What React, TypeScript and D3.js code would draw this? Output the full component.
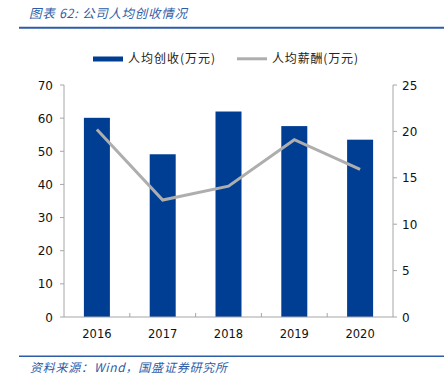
import React from "react";
import * as d3 from "d3";

const years = ["2016", "2017", "2018", "2019", "2020"];
const revenuePerCapita = [60.1, 49.1, 62.0, 57.6, 53.5];
const salaryPerCapita = [20.2, 12.6, 14.1, 19.1, 15.9];
const leftTicks = [0, 10, 20, 30, 40, 50, 60, 70];
const rightTicks = [0, 5, 10, 15, 20, 25];
const titleText = "图表 62:  公司人均创收情况";
const sourceText = "资料来源：Wind，国盛证券研究所";
const legendBar = "人均创收(万元)";
const legendLine = "人均薪酬(万元)";

const W = 444;
const H = 387;
const m = { left: 64, right: 393, top: 85, bottom: 317 };
const BAR = "#003E93";
const LINE = "#AEAEAE";
const AXIS = "#A6A6A6";
const BLUE = "#2E5DA8";
const FONT = "'DejaVu Sans', Verdana, sans-serif";
const CJK = "'Noto Sans CJK SC', sans-serif";

export default function App() {
  const x = d3.scaleBand<string>().domain(years).range([m.left, m.right]).paddingInner(0).paddingOuter(0);
  const yL = d3.scaleLinear().domain([0, 70]).range([m.bottom, m.top]);
  const yR = d3.scaleLinear().domain([0, 25]).range([m.bottom, m.top]);
  const barW = 26;
  const line = d3
    .line<number>()
    .x((_, i) => (x(years[i]) as number) + x.bandwidth() / 2)
    .y((d) => yR(d));

  return (
    <svg width={W} height={H} style={{ position: "absolute", left: 0, top: 0, background: "#fff" }}>
      <text
        x={29}
        y={18}
        fill={BLUE}
        fontFamily={CJK}
        fontStyle="italic"
        fontSize={12.5}
        textLength={158}
        lengthAdjust="spacing"
      >
        {titleText}
      </text>
      <line x1={19} x2={W} y1={27.8} y2={27.8} stroke={BLUE} strokeWidth={2} />

      {/* legend */}
      <rect x={93} y={56.5} width={30} height={5} fill={BAR} />
      <text x={128} y={63} fontFamily={CJK} fontSize={12} fill="#222" textLength={87} lengthAdjust="spacing">
        {legendBar}
      </text>
      <line x1={237} x2={267} y1={58.8} y2={58.8} stroke={LINE} strokeWidth={3} />
      <text x={272} y={63} fontFamily={CJK} fontSize={12} fill="#222" textLength={86} lengthAdjust="spacing">
        {legendLine}
      </text>

      {/* bars */}
      {revenuePerCapita.map((v, i) => (
        <rect
          key={years[i]}
          x={(x(years[i]) as number) + x.bandwidth() / 2 - barW / 2}
          y={yL(v)}
          width={barW}
          height={yL(0) - yL(v)}
          fill={BAR}
        />
      ))}

      {/* line */}
      <path d={line(salaryPerCapita) || ""} fill="none" stroke={LINE} strokeWidth={3} />

      {/* left axis */}
      <line x1={m.left} x2={m.left} y1={m.top} y2={m.bottom} stroke={AXIS} />
      {leftTicks.map((t) => (
        <g key={"l" + t}>
          <line x1={m.left - 4} x2={m.left} y1={yL(t)} y2={yL(t)} stroke={AXIS} />
          <text x={m.left - 11} y={yL(t) + 4.5} textAnchor="end" fontFamily={FONT} fontSize={12} fill="#111">
            {t}
          </text>
        </g>
      ))}

      {/* right axis */}
      <line x1={m.right} x2={m.right} y1={m.top} y2={m.bottom} stroke={AXIS} />
      {rightTicks.map((t) => (
        <g key={"r" + t}>
          <line x1={m.right} x2={m.right + 4} y1={yR(t)} y2={yR(t)} stroke={AXIS} />
          <text x={m.right + 9} y={yR(t) + 4.5} textAnchor="start" fontFamily={FONT} fontSize={12} fill="#111">
            {t}
          </text>
        </g>
      ))}

      {/* x axis */}
      <line x1={m.left} x2={m.right} y1={m.bottom} y2={m.bottom} stroke={AXIS} />
      {years.map((yv, i) => (
        <g key={"x" + yv}>
          {i > 0 && (
            <line x1={x(yv) as number} x2={x(yv) as number} y1={m.bottom - 4} y2={m.bottom} stroke={AXIS} />
          )}
          <text
            x={(x(yv) as number) + x.bandwidth() / 2}
            y={m.bottom + 21}
            textAnchor="middle"
            fontFamily={FONT}
            fontSize={11.5}
            fill="#111"
          >
            {yv}
          </text>
        </g>
      ))}

      {/* footer */}
      <line x1={19} x2={W} y1={356.3} y2={356.3} stroke={BLUE} strokeWidth={1.5} />
      <text
        x={30}
        y={372}
        fill={BLUE}
        fontFamily={CJK}
        fontStyle="italic"
        fontSize={12}
        textLength={197}
        lengthAdjust="spacing"
      >
        {sourceText}
      </text>
    </svg>
  );
}
